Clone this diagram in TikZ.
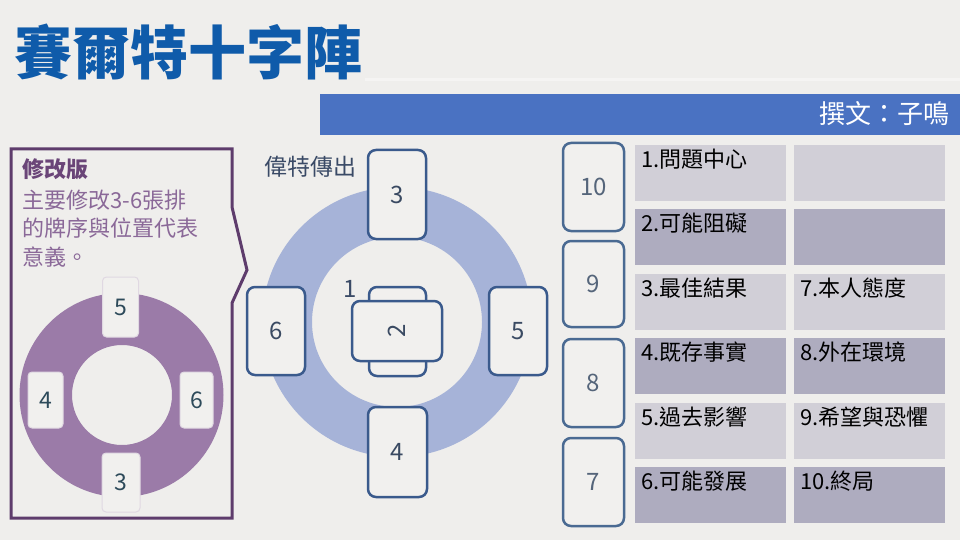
\documentclass[tikz,border=0pt]{standalone}
\usepackage{fontspec}
\setmainfont{Noto Sans CJK TC}
\definecolor{bg}{HTML}{EFEEEC}
\definecolor{titleblue}{HTML}{0F5BAA}
\definecolor{barblue}{HTML}{4A72C2}
\definecolor{purpleline}{HTML}{5E3C6C}
\definecolor{purplehead}{HTML}{6A4578}
\definecolor{purpletext}{HTML}{8A6898}
\definecolor{purplering}{HTML}{9B7BA8}
\definecolor{pcardline}{HTML}{E0D8E2}
\definecolor{pcardtext}{HTML}{2D4A5A}
\definecolor{bluering}{HTML}{A6B3D8}
\definecolor{cardblue}{HTML}{3A5A8C}
\definecolor{cardblue2}{HTML}{4A6A92}
\definecolor{cardfill}{HTML}{F1F0EE}
\definecolor{numtext}{HTML}{3A4A62}
\definecolor{rnumtext}{HTML}{55657A}
\definecolor{celllight}{HTML}{D1CFD7}
\definecolor{celldark}{HTML}{AEACBF}
\definecolor{slate}{HTML}{3A4A66}
\tikzset{
  bluecard/.style={draw=cardblue, line width=2.5pt, rounded corners=8pt, fill=cardfill, inner sep=0pt, text=numtext, font=\fontsize{24}{26}\selectfont},
  rightcard/.style={bluecard, draw=cardblue2, text=rnumtext, minimum width=61pt},
  pcard/.style={draw=pcardline, line width=1pt, rounded corners=4pt, fill=cardfill, inner sep=0pt, text=pcardtext, font=\fontsize{23}{25}\selectfont},
  cell/.style={anchor=north west, inner sep=0pt, minimum width=151pt, minimum height=56pt},
  celltext/.style={anchor=north west, inner sep=0pt, font=\fontsize{22}{24}\selectfont, text=black},
  ptext/.style={anchor=base west, inner sep=0pt, font=\fontsize{22}{29}\selectfont, text=purpletext},
}
\begin{document}
\begin{tikzpicture}[x=1pt, y=-1pt]
\useasboundingbox (0,0) rectangle (960,540);
\fill[bg] (0,0) rectangle (960,540);
\draw[white!35!bg, line width=3pt] (365,80) -- (960,80);

% title
\node[anchor=west, inner sep=0pt, text=titleblue, font=\fontsize{58}{62}\bfseries\selectfont] (title) at (14,52) {賽爾特十字陣};
% bar
\fill[barblue] (320,94) rectangle (960,135);
\node[anchor=east, inner sep=0pt, text=white, font=\fontsize{26}{28}\selectfont] (author) at (950,114) {撰文：子鳴};

% left panel
\draw[purpleline, line width=3pt, line join=miter] (11,149) -- (232,149) -- (232,207) -- (247,270) -- (232,303) -- (232,518) -- (11,518) -- cycle;
\node[anchor=base west, inner sep=0pt, text=purplehead, font=\fontsize{22}{24}\bfseries\selectfont] (ptitle) at (22,178) {修改版};
\node[ptext] (pl1) at (22,208) {主要修改3-6張排};
\node[ptext] (pl2) at (22,236) {的牌序與位置代表};
\node[ptext] (pl3) at (22,265) {意義。};
\fill[purplering, even odd rule] (121.5,395) circle[radius=102] (122,395) circle[radius=50];
\node[pcard, minimum width=36pt, minimum height=60pt] (p5) at (120.5,307) {5};
\node[pcard, minimum width=38pt, minimum height=59pt] (p3) at (121,482.5) {3};
\node[pcard, minimum width=35pt, minimum height=56pt] (p4) at (45.5,400) {4};
\node[pcard, minimum width=33pt, minimum height=56pt] (p6) at (196.5,400) {6};

% middle: Waite
\node[anchor=west, inner sep=0pt, text=slate, font=\fontsize{23}{25}\selectfont] (waite) at (264,167) {偉特傳出};
\fill[bluering, even odd rule] (397,322) circle[radius=135] (397,322) circle[radius=85];
\node[bluecard, minimum width=58pt, minimum height=89pt] (c3) at (397,194.5) {3};
\node[bluecard, minimum width=58pt, minimum height=88pt] (c6) at (276,331) {6};
\node[bluecard, minimum width=58pt, minimum height=88pt] (c5) at (518,331) {5};
\node[bluecard, minimum width=59pt, minimum height=90pt] (c4) at (397.5,452) {4};
\node[bluecard, minimum width=57pt, minimum height=89pt] (c1) at (397.5,331.5) {};
\node[bluecard, minimum width=90pt, minimum height=60pt] (c2) at (397,331) {\rotatebox{90}{2}};
\node[inner sep=0pt, text=slate, font=\fontsize{24}{26}\selectfont] (l1) at (350,289) {1};

% right column cards
\node[rightcard, minimum height=88pt] (c10) at (593.5,187) {10};
\node[rightcard, minimum height=86pt] (c9) at (593.5,284) {9};
\node[rightcard, minimum height=88pt] (c8) at (593.5,383) {8};
\node[rightcard, minimum height=88pt] (c7) at (593.5,482) {7};

% table
\node[cell, fill=celllight] (a1) at (635,145) {};
\node[cell, fill=celllight] (b1) at (794,145) {};
\node[cell, fill=celldark]  (a2) at (635,209) {};
\node[cell, fill=celldark]  (b2) at (794,209) {};
\node[cell, fill=celllight] (a3) at (635,274) {};
\node[cell, fill=celllight] (b3) at (794,274) {};
\node[cell, fill=celldark]  (a4) at (635,338) {};
\node[cell, fill=celldark]  (b4) at (794,338) {};
\node[cell, fill=celllight] (a5) at (635,403) {};
\node[cell, fill=celllight] (b5) at (794,403) {};
\node[cell, fill=celldark]  (a6) at (635,467) {};
\node[cell, fill=celldark]  (b6) at (794,467) {};

\node[celltext] (ta1) at ([shift={(6pt,-4pt)}]a1.north west) {1.問題中心};
\node[celltext] (ta2) at ([shift={(6pt,-4pt)}]a2.north west) {2.可能阻礙};
\node[celltext] (ta3) at ([shift={(6pt,-4pt)}]a3.north west) {3.最佳結果};
\node[celltext] (ta4) at ([shift={(6pt,-4pt)}]a4.north west) {4.既存事實};
\node[celltext] (ta5) at ([shift={(6pt,-4pt)}]a5.north west) {5.過去影響};
\node[celltext] (ta6) at ([shift={(6pt,-4pt)}]a6.north west) {6.可能發展};
\node[celltext] (tb3) at ([shift={(6pt,-4pt)}]b3.north west) {7.本人態度};
\node[celltext] (tb4) at ([shift={(6pt,-4pt)}]b4.north west) {8.外在環境};
\node[celltext] (tb5) at ([shift={(6pt,-4pt)}]b5.north west) {9.希望與恐懼};
\node[celltext] (tb6) at ([shift={(6pt,-4pt)}]b6.north west) {10.終局};
\end{tikzpicture}
\end{document}
